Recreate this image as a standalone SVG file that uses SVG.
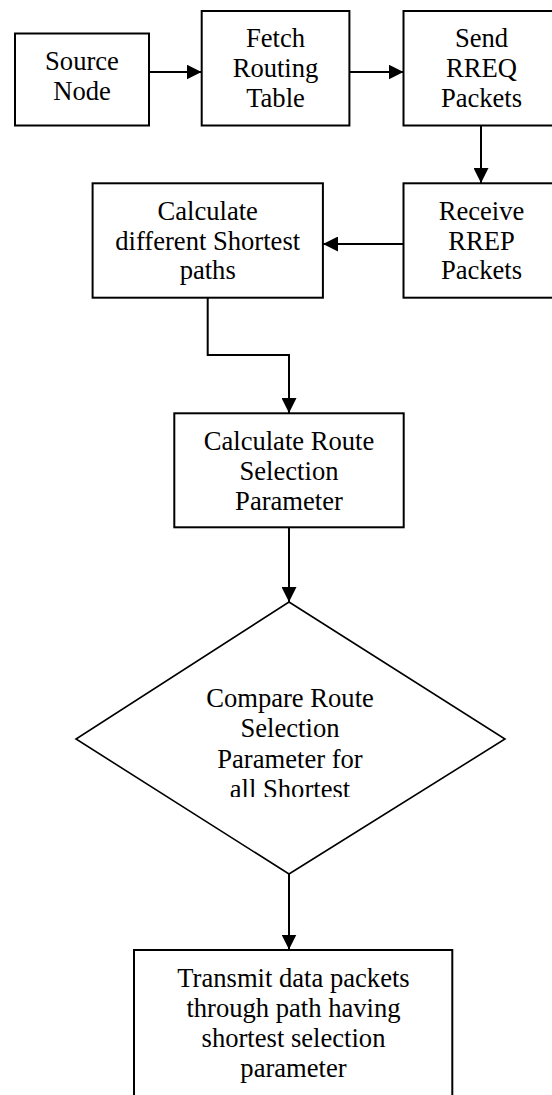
<svg xmlns="http://www.w3.org/2000/svg" width="552" height="1095" viewBox="0 0 552 1095">
  <style>
    .box { fill: #fff; stroke: #000; stroke-width: 2; }
    .dec { fill: #fff; stroke: #000; stroke-width: 1.6; }
    .lbl { font-family: "Liberation Serif", "Times New Roman", serif; font-size: 26.6px; fill: #000; text-anchor: middle; }
    .link { fill: none; stroke: #000; stroke-width: 2; }
  </style>
  <defs>
    <marker id="arrow" markerUnits="userSpaceOnUse" markerWidth="15" markerHeight="15" refX="15" refY="7.5" orient="auto">
      <path d="M0,0 L15,7.5 L0,15 Z" fill="#000"/>
    </marker>
    <clipPath id="decClip">
      <rect x="150" y="680" width="280" height="117"/>
    </clipPath>
  </defs>
  <rect width="552" height="1095" fill="#fff"/>

  <g id="connectors">
    <line class="link" x1="149" y1="72" x2="201.5" y2="72" marker-end="url(#arrow)"/>
    <line class="link" x1="349.5" y1="72" x2="403.5" y2="72" marker-end="url(#arrow)"/>
    <line class="link" x1="481" y1="126" x2="481" y2="183" marker-end="url(#arrow)"/>
    <line class="link" x1="403.5" y1="244" x2="323" y2="244" marker-end="url(#arrow)"/>
    <polyline class="link" points="207.7,298 207.7,355 289,355 289,413" marker-end="url(#arrow)"/>
    <line class="link" x1="289" y1="527.5" x2="289" y2="602" marker-end="url(#arrow)"/>
    <line class="link" x1="289" y1="874" x2="289" y2="949.5" marker-end="url(#arrow)"/>
  </g>

  <g id="source-node">
    <rect class="box" x="15" y="33.5" width="134" height="92"/>
    <text class="lbl" x="82" y="70">Source</text>
    <text class="lbl" x="82" y="100">Node</text>
  </g>

  <g id="fetch-routing-table">
    <rect class="box" x="201.7" y="11" width="147.7" height="114.5"/>
    <text class="lbl" x="275.5" y="47">Fetch</text>
    <text class="lbl" x="275.5" y="77">Routing</text>
    <text class="lbl" x="275.5" y="107">Table</text>
  </g>

  <g id="send-rreq">
    <rect class="box" x="403.5" y="11" width="156" height="114.5"/>
    <text class="lbl" x="481.5" y="47">Send</text>
    <text class="lbl" x="481.5" y="77">RREQ</text>
    <text class="lbl" x="481.5" y="107">Packets</text>
  </g>

  <g id="receive-rrep">
    <rect class="box" x="403.5" y="183.3" width="156" height="114.4"/>
    <text class="lbl" x="481.5" y="220">Receive</text>
    <text class="lbl" x="481.5" y="249.5">RREP</text>
    <text class="lbl" x="481.5" y="279">Packets</text>
  </g>

  <g id="calc-shortest-paths">
    <rect class="box" x="92.6" y="183.3" width="230.3" height="114.4"/>
    <text class="lbl" x="207.7" y="220">Calculate</text>
    <text class="lbl" x="207.7" y="249.5">different Shortest</text>
    <text class="lbl" x="207.7" y="279">paths</text>
  </g>

  <g id="calc-route-param">
    <rect class="box" x="174.3" y="413.3" width="229.4" height="114"/>
    <text class="lbl" x="289" y="449.5">Calculate Route</text>
    <text class="lbl" x="289" y="480">Selection</text>
    <text class="lbl" x="289" y="510">Parameter</text>
  </g>

  <g id="compare-decision">
    <polygon class="dec" points="289,602 505,739 289,874 76,739"/>
    <g clip-path="url(#decClip)">
      <text class="lbl" x="290" y="707">Compare Route</text>
      <text class="lbl" x="290" y="737">Selection</text>
      <text class="lbl" x="290" y="767.5">Parameter for</text>
      <text class="lbl" x="290" y="798">all Shortest</text>
    </g>
  </g>

  <g id="transmit-data">
    <rect class="box" x="134" y="950" width="318.3" height="160"/>
    <text class="lbl" x="293.5" y="986.5">Transmit data packets</text>
    <text class="lbl" x="293.5" y="1016.5">through path having</text>
    <text class="lbl" x="293.5" y="1046.5">shortest selection</text>
    <text class="lbl" x="293.5" y="1076.5">parameter</text>
  </g>
</svg>
